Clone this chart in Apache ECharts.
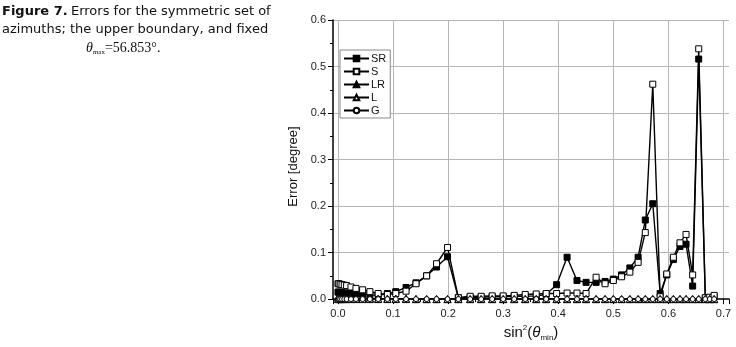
<!DOCTYPE html>
<html>
<head>
<meta charset="utf-8">
<script src="https://cdn.jsdelivr.net/npm/echarts@6/dist/echarts.min.js"></script>
<style>
  html, body { margin: 0; padding: 0; background: #fff; }
  #chart { width: 736px; height: 347px; }
</style>
</head>
<body>
<div id="chart"></div>
<script>
// sin^2(theta_min) positions shared by every series
const xValues = [0, 0.0015, 0.004, 0.0073, 0.0115, 0.0157, 0.0236, 0.0327, 0.0448, 0.058,
  0.073, 0.0897, 0.105, 0.1236, 0.1417, 0.161, 0.179, 0.199, 0.2186, 0.24,
  0.26, 0.28, 0.30, 0.32, 0.34, 0.36, 0.378, 0.397, 0.416, 0.434,
  0.4505, 0.4687, 0.485, 0.500, 0.515, 0.530, 0.545, 0.558, 0.5716, 0.585,
  0.597, 0.609, 0.621, 0.632, 0.644, 0.655, 0.667, 0.675, 0.683]

// errors [degree]
const srValues = [0.015, 0.015, 0.014, 0.014, 0.013, 0.013, 0.012, 0.011, 0.010, 0.009,
  0.008, 0.012, 0.016, 0.025, 0.035, 0.050, 0.069, 0.091, 0.003, 0.004,
  0.004, 0.005, 0.005, 0.006, 0.006, 0.007, 0.010, 0.031, 0.090, 0.040,
  0.036, 0.036, 0.038, 0.043, 0.052, 0.067, 0.090, 0.170, 0.205, 0.012,
  0.052, 0.085, 0.113, 0.118, 0.028, 0.516, 0.002, 0.003, 0.005]
const sValues = [0.033, 0.033, 0.032, 0.031, 0.030, 0.029, 0.026, 0.023, 0.020, 0.016,
  0.012, 0.010, 0.012, 0.017, 0.033, 0.050, 0.076, 0.111, 0.003, 0.006,
  0.006, 0.007, 0.007, 0.008, 0.010, 0.011, 0.012, 0.012, 0.013, 0.013,
  0.012, 0.047, 0.033, 0.040, 0.048, 0.058, 0.079, 0.143, 0.462, 0.005,
  0.054, 0.090, 0.121, 0.139, 0.052, 0.538, 0.003, 0.004, 0.008]
const lrValues = [0.004, 0.004, 0.004, 0.003, 0.003, 0.003, 0.003, 0.002, 0.002, 0.002,
  0.001, 0.001, 0.001, 0.001, 0, 0, 0, 0, 0, 0,
  0, 0, 0, 0, 0, 0, 0, 0, 0, 0,
  0, 0, 0, 0, 0, 0, 0, 0, 0, 0,
  0, 0, 0, 0, 0, 0, 0, 0, 0]
const lValues = [0, 0, 0, 0, 0, 0, 0, 0, 0, 0,
  0, 0, 0, 0, 0, 0, 0, 0, 0, 0,
  0, 0, 0, 0, 0, 0, 0, 0, 0, 0,
  0, 0, 0, 0, 0, 0, 0, 0, 0, 0,
  0, 0, 0, 0, 0, 0, 0, 0, 0]
const gValues = [0, 0, 0, 0, 0, 0, 0, 0, 0, 0,
  0, 0, 0, 0, 0, 0, 0, 0, 0, 0,
  0, 0, 0, 0, 0, 0, 0, 0, 0, 0,
  0, 0, 0, 0, 0, 0, 0, 0, 0, 0,
  0, 0, 0, 0, 0, 0, 0, 0, 0]

const seriesNames = ['SR', 'S', 'LR', 'L', 'G']

function pairs(ys) {
  return xValues.map((x, i) => [x, ys[i]])
}

// marker look for each series: [symbol, size, filled]
const looks = [
  ['rect', 6, true],
  ['rect', 6, false],
  ['triangle', 7, true],
  ['triangle', 7, false],
  ['circle', 5, false]
]
const allValues = [srValues, sValues, lrValues, lValues, gValues]

const myChart = echarts.init(document.getElementById('chart'), null, { renderer: 'canvas' })

const axisFont = 'Liberation Sans, Arial, sans-serif'

const series = seriesNames.map((name, k) => ({
  name: name,
  type: 'line',
  data: pairs(allValues[k]),
  symbol: looks[k][0],
  symbolSize: looks[k][1],
  showSymbol: true,
  animation: false,
  lineStyle: { color: '#000', width: k < 2 ? 1.4 : 1 },
  itemStyle: {
    color: looks[k][2] ? '#000' : '#fff',
    borderColor: '#000',
    borderWidth: 1
  },
  z: 2 + k
}))

let option = {
  backgroundColor: '#fff',
  animation: false,
  grid: { left: 333, right: 7, top: 20, bottom: 44 },
  legend: {
    orient: 'vertical',
    left: 340,
    top: 50,
    padding: [3, 4, 2, 3],
    itemGap: 2,
    itemWidth: 25,
    itemHeight: 7,
    borderColor: '#888',
    borderWidth: 1,
    backgroundColor: '#fff',
    textStyle: { fontSize: 11, color: '#111', fontFamily: axisFont, padding: [0, 0, 0, -3] },
    data: seriesNames
  },
  xAxis: {
    type: 'value',
    min: -0.009,
    max: 0.71,
    minInterval: 0.1,
    maxInterval: 0.1,
    splitNumber: 7,
    name: '{t|sin}{sup|2}{t|(}{it|θ}{sub|min}{t|)}',
    nameLocation: 'middle',
    nameGap: 24,
    nameTextStyle: {
      rich: {
        t: { fontSize: 15, fontFamily: axisFont, color: '#111' },
        it: { fontSize: 15, fontStyle: 'italic', fontFamily: axisFont, color: '#111' },
        sup: { fontSize: 8, fontFamily: axisFont, color: '#111', verticalAlign: 'top', padding: [0, 0, 8, 0] },
        sub: { fontSize: 8, fontFamily: axisFont, color: '#111', padding: [10, 0, 0, 0] }
      }
    },
    axisLine: { show: true, onZero: false, lineStyle: { color: '#000', width: 1.5 } },
    axisTick: { show: true, inside: false, length: 5, lineStyle: { color: '#000' } },
    minorTick: { show: true, splitNumber: 2, length: 3, lineStyle: { color: '#000' } },
    axisLabel: {
      fontSize: 11,
      color: '#222',
      fontFamily: axisFont,
      margin: 9,
      showMinLabel: false,
      showMaxLabel: false,
      formatter: function (v) {
        let k = Math.round(v * 10)
        if (Math.abs(v * 10 - k) > 1e-6) return ''
        return (k / 10).toFixed(1)
      }
    },
    splitLine: { show: true, showMinLine: false, showMaxLine: false, lineStyle: { color: '#b5b5b5', width: 1 } }
  },
  yAxis: {
    type: 'value',
    min: 0,
    max: 0.6,
    interval: 0.1,
    name: 'Error [degree]',
    nameLocation: 'middle',
    nameGap: 24,
    nameTextStyle: { fontSize: 13, fontFamily: axisFont, color: '#111', padding: [0, 14, 0, 0] },
    axisLine: { show: true, onZero: false, lineStyle: { color: '#000', width: 1.5 } },
    axisTick: { show: true, inside: false, length: 5, lineStyle: { color: '#000' } },
    minorTick: { show: true, splitNumber: 2, length: 3, lineStyle: { color: '#000' } },
    axisLabel: {
      fontSize: 11,
      color: '#222',
      fontFamily: axisFont,
      margin: 7,
      formatter: v => v.toFixed(1)
    },
    splitLine: { show: true, showMinLine: false, lineStyle: { color: '#b5b5b5', width: 1 } }
  },
  graphic: [
    {
      type: 'text',
      left: 2,
      top: 5,
      style: {
        text: '{b|Figure 7.} {n|Errors for the symmetric set of}\n{n|azimuths; the upper boundary, and fixed}',
        rich: {
          b: { fontWeight: 'bold', fontSize: 13, fontFamily: 'DejaVu Sans', fill: '#111', lineHeight: 18 },
          n: { fontSize: 13, fontFamily: 'DejaVu Sans', fill: '#111', lineHeight: 18 }
        }
      }
    },
    {
      type: 'text',
      left: 86,
      top: 41,
      style: {
        text: '{th|θ}{sub|max}{v|=56.853°.}',
        rich: {
          th: { fontSize: 14, fontStyle: 'italic', fontFamily: 'Liberation Serif', fill: '#111' },
          sub: { fontSize: 7, fontFamily: 'Liberation Serif', fill: '#111', padding: [9, 0, 0, 0] },
          v: { fontSize: 14, fontFamily: 'Liberation Serif', fill: '#111' }
        }
      }
    }
  ],
  series: series
}

myChart.setOption(option)
</script>
</body>
</html>
